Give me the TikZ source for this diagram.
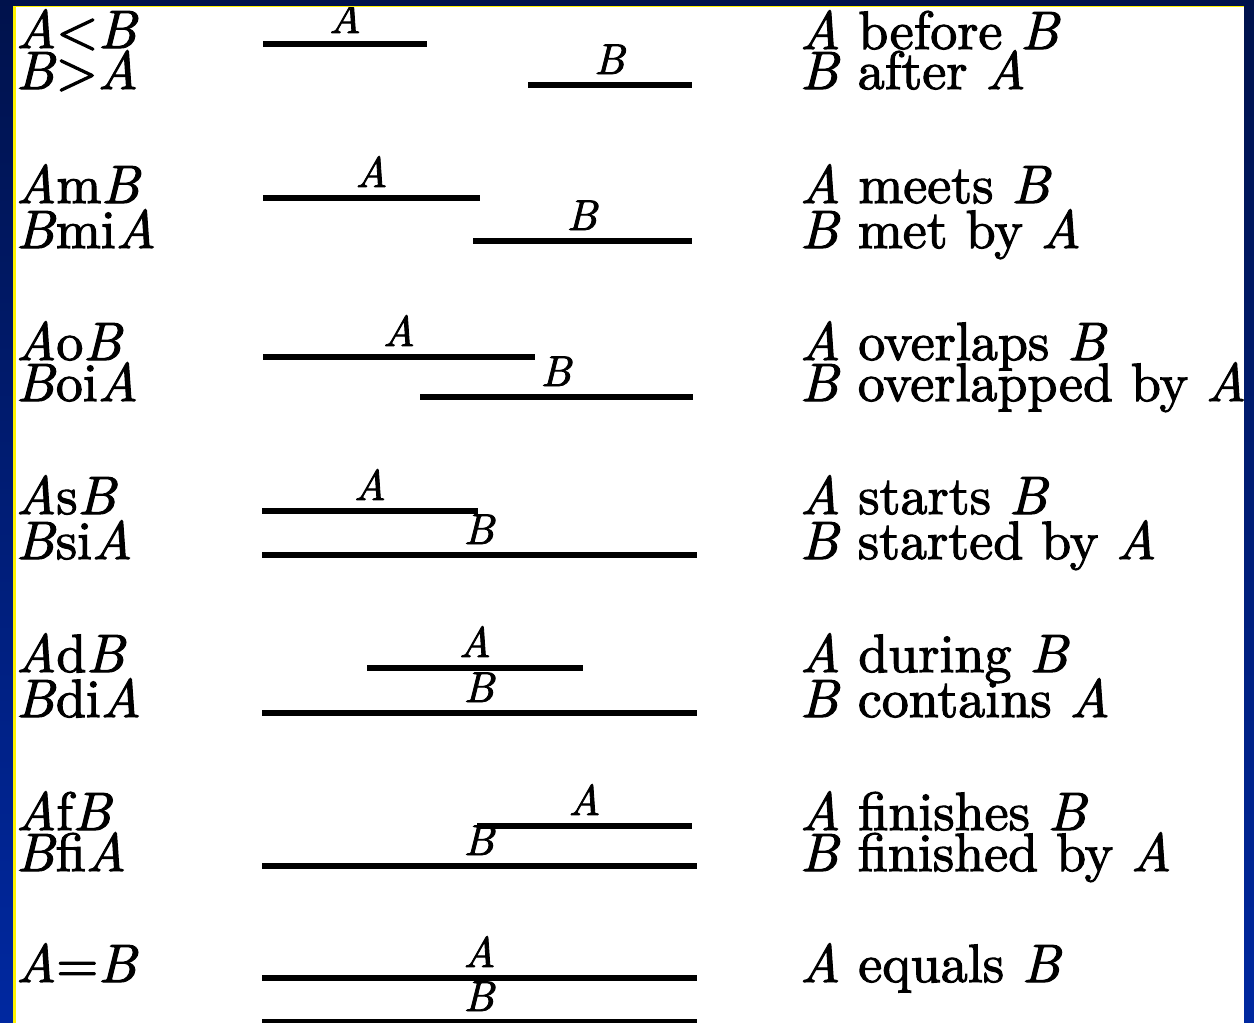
\documentclass[tikz,border=0pt]{standalone}
\usepackage{fontspec}
\newfontfamily\heavy{lmroman10-regular.otf}[ItalicFont=lmroman10-italic.otf, RawFeature={embolden=2}]
\definecolor{navytop}{HTML}{00124C}
\definecolor{navybot}{HTML}{0028A0}
\newcommand\VA{\textit{A}}
\newcommand\VB{\textit{B}}
\newcommand\ival[5]{%
  \coordinate (#1s) at (#2,#4);
  \coordinate (#1e) at (#3,#4);
  \draw[interval] (#1s) -- node[ilabel] (#1l) {#5} (#1e);}
\begin{document}
\begin{tikzpicture}[x=1pt,y=-1pt,
  interval/.style={line width=5.5pt},
  ilabel/.style={font=\heavy\fontsize{43}{43}\selectfont, anchor=base, inner sep=0pt, yshift=11pt},
  bigtext/.style={font=\heavy\fontsize{54}{54}\selectfont, anchor=base west, inner sep=0pt}]
\useasboundingbox (0,0) rectangle (1254,1023);
\shade[top color=navytop, bottom color=navybot] (0,0) rectangle (1254,1023);
\fill[white] (14,6) rectangle (1244,1030);
\draw[yellow, line width=3pt] (14,6) -- (14,1030);
\draw[yellow, line width=1.5pt] (13,6.5) -- (1244,6.5);
\begin{scope}
\clip (15.5,7.2) rectangle (1244,1030);
% left relation names
\node[bigtext] (l1a) at (16,48) {\VA<\VB};
\node[bigtext] (l1b) at (16,89) {\VB>\VA};
\node[bigtext] (l2a) at (16,203) {\VA m\VB};
\node[bigtext] (l2b) at (16,248) {\VB mi\VA};
\node[bigtext] (l3a) at (16,360) {\VA o\VB};
\node[bigtext] (l3b) at (16,401) {\VB oi\VA};
\node[bigtext] (l4a) at (16,514) {\VA s\VB};
\node[bigtext] (l4b) at (16,559) {\VB si\VA};
\node[bigtext] (l5a) at (16,672) {\VA d\VB};
\node[bigtext] (l5b) at (16,717) {\VB di\VA};
\node[bigtext] (l6a) at (16,830) {\VA f\VB};
\node[bigtext] (l6b) at (16,871) {\VB fi\VA};
\node[bigtext] (l7a) at (16,982) {\VA=\VB};
% intervals
\ival{i1a}{263}{427}{44}{\VA}
\ival{i1b}{528}{692}{85}{\VB}
\ival{i2a}{263}{480}{198}{\VA}
\ival{i2b}{473}{692}{241}{\VB}
\ival{i3a}{263}{535}{357}{\VA}
\ival{i3b}{420}{693}{397}{\VB}
\ival{i4a}{262}{478}{511}{\VA}
\ival{i4b}{262}{697}{555}{\VB}
\ival{i5a}{367}{583}{668}{\VA}
\ival{i5b}{262}{697}{713}{\VB}
\ival{i6a}{477}{692}{826}{\VA}
\ival{i6b}{262}{697}{866}{\VB}
\ival{i7a}{262}{697}{978}{\VA}
\ival{i7b}{262}{697}{1022}{\VB}
% descriptions
\node[bigtext] (r1a) at (800,49) {\VA{} before \VB};
\node[bigtext] (r1b) at (800,89) {\VB{} after \VA};
\node[bigtext] (r2a) at (800,203) {\VA{} meets \VB};
\node[bigtext] (r2b) at (800,248) {\VB{} met by \VA};
\node[bigtext] (r3a) at (800,360) {\VA{} overlaps \VB};
\node[bigtext] (r3b) at (800,401) {\VB{} overlapped by \VA};
\node[bigtext] (r4a) at (800,514) {\VA{} starts \VB};
\node[bigtext] (r4b) at (800,559) {\VB{} started by \VA};
\node[bigtext] (r5a) at (800,672) {\VA{} during \VB};
\node[bigtext] (r5b) at (800,717) {\VB{} contains \VA};
\node[bigtext] (r6a) at (800,830) {\VA{} finishes \VB};
\node[bigtext] (r6b) at (800,871) {\VB{} finished by \VA};
\node[bigtext] (r7a) at (800,982) {\VA{} equals \VB};
\end{scope}
\end{tikzpicture}
\end{document}
